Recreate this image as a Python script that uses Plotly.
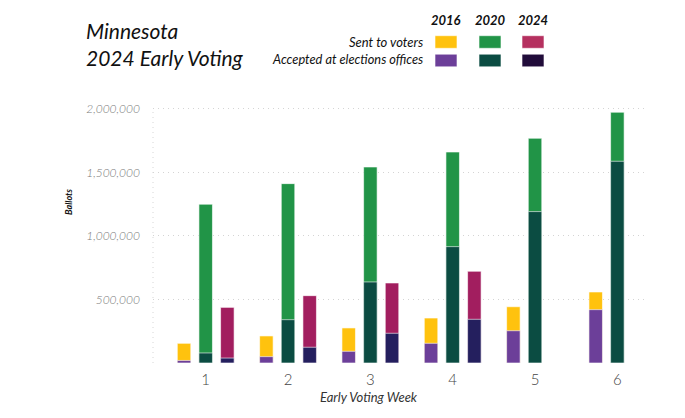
import plotly.graph_objects as go

# weekly early voting numbers
weeks = [1, 2, 3, 4, 5, 6]
sent_2016 = [155000, 213000, 276000, 354000, 443000, 559000]
acc_2016 = [20000, 50000, 92000, 155000, 254000, 420000]
sent_2020 = [1250000, 1412000, 1543000, 1661000, 1769000, 1974000]
acc_2020 = [79000, 341000, 638000, 916000, 1192000, 1588000]
weeks_2024 = [1, 2, 3, 4]
sent_2024 = [438000, 530000, 630000, 722000]
acc_2024 = [39000, 124000, 234000, 344000]

years = ["2016", "2020", "2024"]
y_ticks = [500000, 1000000, 1500000, 2000000]

FONT = "Lato"
bar_w = 0.164
gap = 0.263

series = [
    ("2016", weeks, sent_2016, acc_2016, -gap, "#FFC20E", "#6C3F99"),
    ("2020", weeks, sent_2020, acc_2020, 0, "#219447", "#0B4C42"),
    ("2024", weeks_2024, sent_2024, acc_2024, gap, "#A21E5F", "#241F5E"),
]

fig = go.Figure()

for yr, wk, sent, acc, off, c_sent, c_acc in series:
    xs = [w + off for w in wk]
    fig.add_trace(go.Bar(
        x=xs, y=sent, width=bar_w, name="Sent to voters " + yr,
        marker=dict(color=c_sent, line=dict(color="rgba(255,255,255,0.6)", width=1)),
        showlegend=False,
    ))
    fig.add_trace(go.Bar(
        x=xs, y=acc, width=bar_w, name="Accepted " + yr,
        marker=dict(color=c_acc, line=dict(color="rgba(255,255,255,0.6)", width=1)),
        showlegend=False,
    ))

# page has an 8px body margin, so aim the plot area at target pixels
OFF = 8
W, H = 685, 418
L, T = 153, 105          # plot area left / top in the picture
pw, ph = 494, 258        # plot area size


def px_x(p):
    return (p - L) / pw


def px_y(p):
    return (T + ph - p) / ph


# dotted vertical line on the left edge
fig.add_shape(type="line", xref="paper", yref="y", x0=0, x1=0, y0=0, y1=2000000,
              line=dict(color="#d6d6d6", width=1, dash="1px,4px"))

# title
fig.add_annotation(text="<i>Minnesota<br>2024 Early Voting</i>", xref="paper", yref="paper",
                   x=px_x(84), y=px_y(44), xanchor="left", yanchor="middle", showarrow=False,
                   align="left", font=dict(family=FONT, size=21, color="#111111"))

# custom legend
leg_x = [446, 490, 533]
sent_cols = ["#FFC20E", "#219447", "#B5305F"]
acc_cols = ["#6C3F99", "#0B4C42", "#210C3A"]

for i, yr in enumerate(years):
    fig.add_annotation(text="<b><i>" + yr + "</i></b>", xref="paper", yref="paper",
                       x=px_x(leg_x[i]), y=px_y(20), xanchor="center", yanchor="middle",
                       showarrow=False, font=dict(family=FONT, size=13, color="#111111"))
    for cy, col in [(42, sent_cols[i]), (60.5, acc_cols[i])]:
        fig.add_shape(type="rect", xref="paper", yref="paper",
                      x0=px_x(leg_x[i] - 11), x1=px_x(leg_x[i] + 11),
                      y0=px_y(cy - 6.3), y1=px_y(cy + 6.3),
                      fillcolor=col, line=dict(color="rgba(255,255,255,0.6)", width=1))

fig.add_annotation(text="<i>Sent to voters</i>", xref="paper", yref="paper",
                   x=px_x(425), y=px_y(42), xanchor="right", yanchor="middle", showarrow=False,
                   font=dict(family=FONT, size=13, color="#111111"))
fig.add_annotation(text="<i>Accepted at elections offices</i>", xref="paper", yref="paper",
                   x=px_x(425), y=px_y(59.5), xanchor="right", yanchor="middle", showarrow=False,
                   font=dict(family=FONT, size=12.8, color="#111111"))

# axis titles
fig.add_annotation(text="<b><i>Ballots</i></b>", xref="paper", yref="paper",
                   x=px_x(68), y=px_y(202), xanchor="center", yanchor="middle",
                   textangle=-90, showarrow=False,
                   font=dict(family=FONT, size=9, color="#111111"))
fig.add_annotation(text="<i>Early Voting Week</i>", xref="paper", yref="paper",
                   x=px_x(369), y=px_y(396.5), xanchor="center", yanchor="middle",
                   showarrow=False, font=dict(family=FONT, size=13, color="#333333"))

fig.update_layout(
    width=W, height=H,
    margin=dict(l=L - OFF, r=W - (L - OFF) - pw, t=T - OFF, b=H - (T - OFF) - ph),
    barmode="overlay",
    plot_bgcolor="white", paper_bgcolor="white",
    font=dict(family=FONT),
    xaxis=dict(range=[0.36, 6.36], tickvals=weeks, showgrid=False, zeroline=False,
               showline=False, ticks="", ticklabelstandoff=6,
               tickfont=dict(family=FONT, size=15, color="#444444", weight=300)),
    yaxis=dict(range=[0, 2031000], tickvals=y_ticks, tickformat=",d",
               showgrid=True, gridcolor="#d4d4d4", griddash="1px,4px", gridwidth=1,
               zeroline=False, showline=False, ticks="", ticklabelstandoff=12,
               tickfont=dict(family=FONT, size=12, color="#7a7a7a", style="italic", weight=300)),
)

fig.write_html("out.html")
